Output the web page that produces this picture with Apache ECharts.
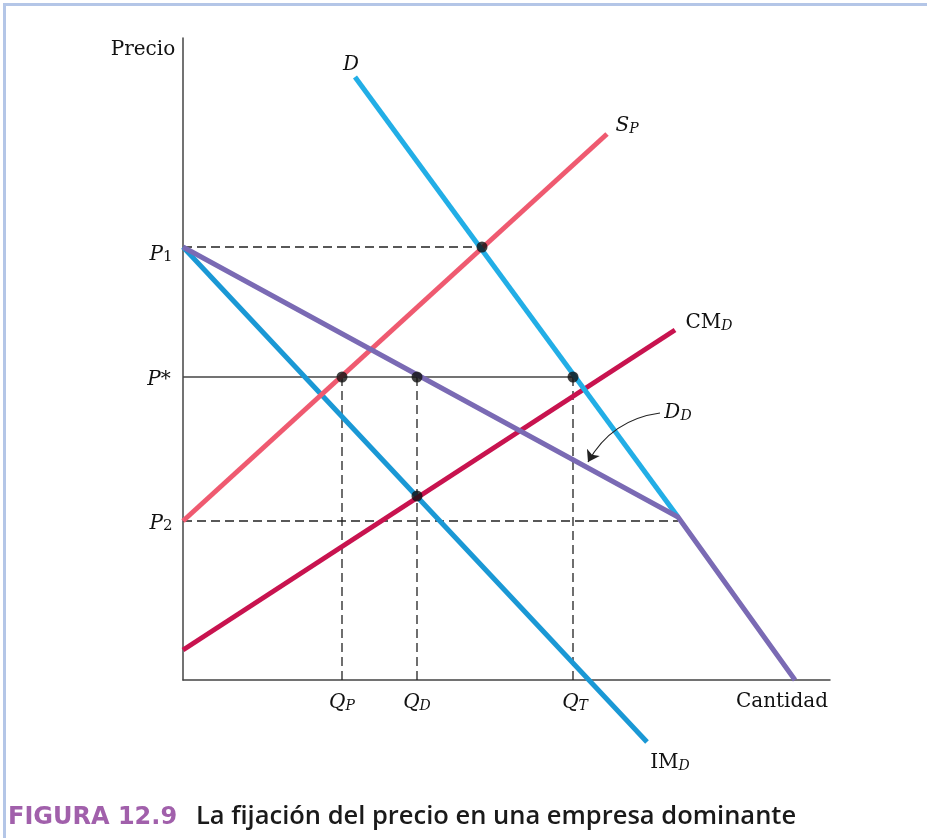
<!DOCTYPE html>
<html>
<head>
    <meta charset="utf-8">
    <title>La fijación del precio en una empresa dominante</title>
    <script src="https://cdn.jsdelivr.net/npm/echarts@6/dist/echarts.min.js"></script>
    <style>
        html, body { margin: 0; padding: 0; background: #fff; }
        #chart { width: 927px; height: 838px; }
    </style>
</head>
<body>
<div id="chart"></div>
<script>
    // units, origin at the axes corner
    var demandD = [[172, 603], [495, 163]];
    var supplyP = [[0, 159], [424, 546]];
    var demandDom = [[0, 433], [495, 163], [612, 0]];
    var imDom = [[0, 433], [464, -62]];
    var cmDom = [[0, 30], [492, 350]];

    var p1 = 433, pStar = 303, p2 = 159;
    var qP = 159, qD = 234, qT = 390;
    var dots = [[299, p1], [qP, pStar], [qD, pStar], [qT, pStar], [qD, 184]];

    // annotation text: [x, y, rich text]
    var labels = [
        [-40, 633, '{r|Precio}'],
        [168, 618, '{i|D}'],
        [444, 557, '{i|S}{si|P}'],
        [-22, 428, '{i|P}{sr|1}'],
        [-24, 303, '{i|P}{r|*}'],
        [-22, 159, '{i|P}{sr|2}'],
        [526, 360, '{r|CM}{si|D}'],
        [495, 270, '{i|D}{si|D}'],
        [qP, -20, '{i|Q}{si|P}'],
        [qD, -20, '{i|Q}{si|D}'],
        [qT + 2, -20, '{i|Q}{si|T}'],
        [599, -19, '{r|Cantidad}'],
        [487, -80, '{r|IM}{si|D}']
    ];
    var arrowFrom = [477, 267], arrowTo = [405, 218];

    var serif = 'DejaVu Serif';
    var ink = '#111';
    var rich = {
        r: { fontFamily: serif, fontSize: 20, lineHeight: 26, color: ink, verticalAlign: 'bottom' },
        i: { fontFamily: serif, fontStyle: 'italic', fontSize: 20, lineHeight: 26, color: ink, verticalAlign: 'bottom' },
        si: { fontFamily: serif, fontStyle: 'italic', fontSize: 14, lineHeight: 14, color: ink, verticalAlign: 'bottom' },
        sr: { fontFamily: serif, fontSize: 15, lineHeight: 14, color: ink, verticalAlign: 'bottom' }
    };

    function curve(name, data, color) {
        return {
            name: name, type: 'line', data: data, symbol: 'none', clip: false, z: 3,
            lineStyle: { color: color, width: 5, cap: 'butt' }
        };
    }
    function guide(data, dashed) {
        return {
            type: 'line', data: data, symbol: 'none', clip: false, z: 2,
            lineStyle: { color: dashed ? '#222' : '#444', width: 1.3, type: dashed ? [9, 5] : 'solid' }
        };
    }

    var myChart = echarts.init(document.getElementById('chart'));
    myChart.setOption({
        animation: false,
        backgroundColor: '#fff',
        grid: { left: 183, top: 38, width: 647, height: 642 },
        xAxis: {
            type: 'value', min: 0, max: 647,
            axisLine: { lineStyle: { color: '#444', width: 1.5 } },
            axisTick: { show: false }, axisLabel: { show: false }, splitLine: { show: false }
        },
        yAxis: {
            type: 'value', min: 0, max: 642,
            axisLine: { lineStyle: { color: '#444', width: 1.5 } },
            axisTick: { show: false }, axisLabel: { show: false }, splitLine: { show: false }
        },
        graphic: [
            { type: 'rect', shape: { x: 3, y: 3, width: 924, height: 3 }, style: { fill: '#b4c6e7' } },
            { type: 'rect', shape: { x: 3, y: 3, width: 3, height: 835 }, style: { fill: '#b4c6e7' } },
            {
                type: 'text', left: 8, top: 806,
                style: { text: 'FIGURA 12.9', font: 'bold 24px "DejaVu Sans"', fill: '#a160ab' }
            },
            {
                type: 'text', left: 196, top: 804,
                style: { text: 'La fijación del precio en una empresa dominante', font: '600 25.5px "Open Sans"', fill: '#1a1a1a' }
            }
        ],
        series: [
            guide([[0, p1], [299, p1]], true),
            guide([[0, p2], [495, p2]], true),
            guide([[0, pStar], [qT, pStar]], false),
            guide([[qP, pStar], [qP, 0]], true),
            guide([[qD, pStar], [qD, 0]], true),
            guide([[qT, pStar], [qT, 0]], true),
            curve('IM_D', imDom, '#1a98d5'),
            curve('CM_D', cmDom, '#c8134f'),
            curve('S_P', supplyP, '#ef5a70'),
            curve('D', demandD, '#22aee6'),
            curve('D_D', demandDom, '#7a6ab4'),
            {
                type: 'lines', coordinateSystem: 'cartesian2d', z: 4,
                symbol: ['none', 'arrow'], symbolSize: 11,
                lineStyle: { color: '#222', width: 1.1, opacity: 1, curveness: -0.25 },
                data: [{ coords: [arrowFrom, arrowTo] }]
            },
            {
                type: 'scatter', data: dots, symbolSize: 11, z: 5,
                itemStyle: { color: '#111' }
            },
            {
                type: 'scatter', symbolSize: 0, z: 6, clip: false, silent: true,
                data: labels.map(function (l) { return { value: [l[0], l[1]], text: l[2] }; }),
                label: {
                    show: true, position: 'inside', color: ink, opacity: 1,
                    formatter: function (p) { return p.data.text; },
                    rich: rich
                }
            }
        ]
    });
</script>
</body>
</html>
